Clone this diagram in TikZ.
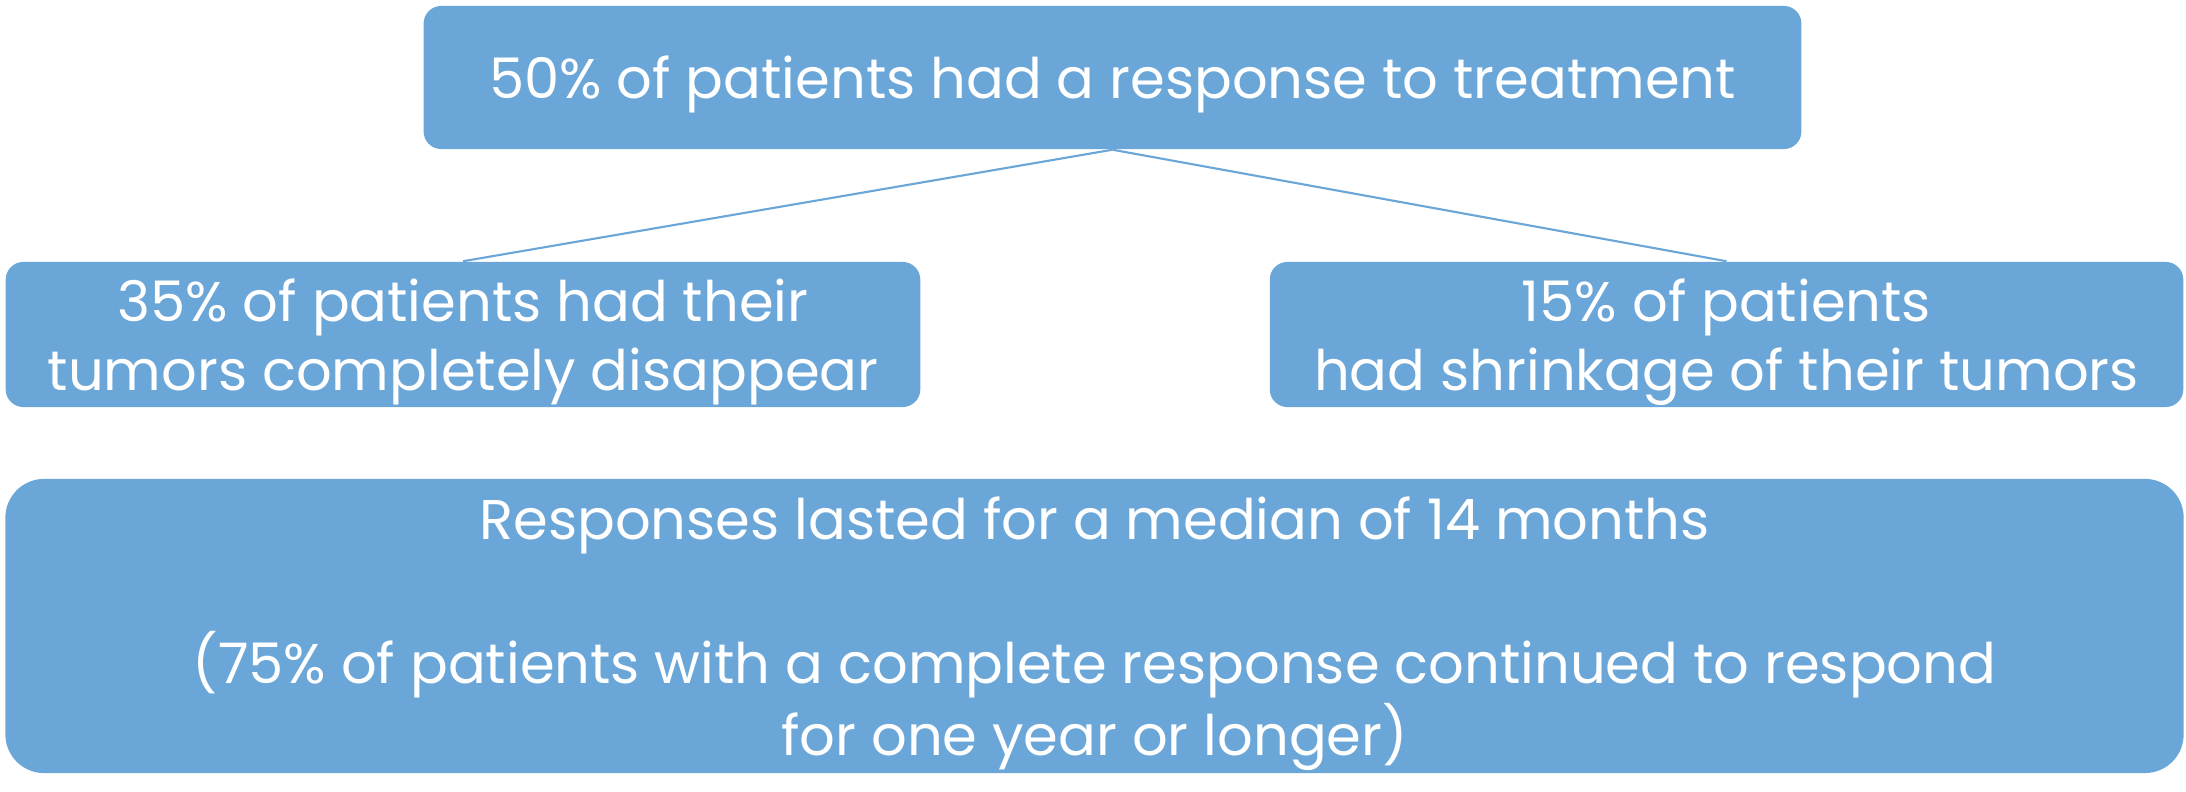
\documentclass[tikz,border=0pt]{standalone}
\usepackage{fontspec}
\setmainfont{Poppins}
\definecolor{boxblue}{HTML}{6AA6D7}

\begin{document}
\begin{tikzpicture}[x=0.01cm,y=-0.01cm,font=\fontsize{15.9pt}{19.6pt}\selectfont,
                    box/.style={fill=boxblue,text=white,align=center,inner sep=0pt,text depth=0pt},
                    link/.style={draw=boxblue,line width=0.6pt}]
  \useasboundingbox (0,0) rectangle (2186,792);
  \node[box,rounded corners=5pt,minimum width=13.77cm,minimum height=1.43cm] (resp) at (1112.5,77.5)
    {50\% of patients had a response to treatment};
  \node[box,rounded corners=5pt,minimum width=9.14cm,minimum height=1.45cm] (full) at (463,334.5)
    {35\% of patients had their\\tumors completely disappear};
  \node[box,rounded corners=5pt,minimum width=9.13cm,minimum height=1.45cm] (part) at (1726.5,334.5)
    {15\% of patients\\had shrinkage of their tumors};
  \node[box,rounded corners=11pt,minimum width=21.77cm,minimum height=2.94cm,
        font=\fontsize{15.9pt}{20.5pt}\selectfont] (dur) at (1094.5,626)
    {Responses lasted for a median of 14 months\\[\baselineskip]
     (75\% of patients with a complete response continued to respond\\for one year or longer)};
  % tree links
  \draw[link] (resp.south) -- (full.north);
  \draw[link] (resp.south) -- (part.north);
\end{tikzpicture}
\end{document}
